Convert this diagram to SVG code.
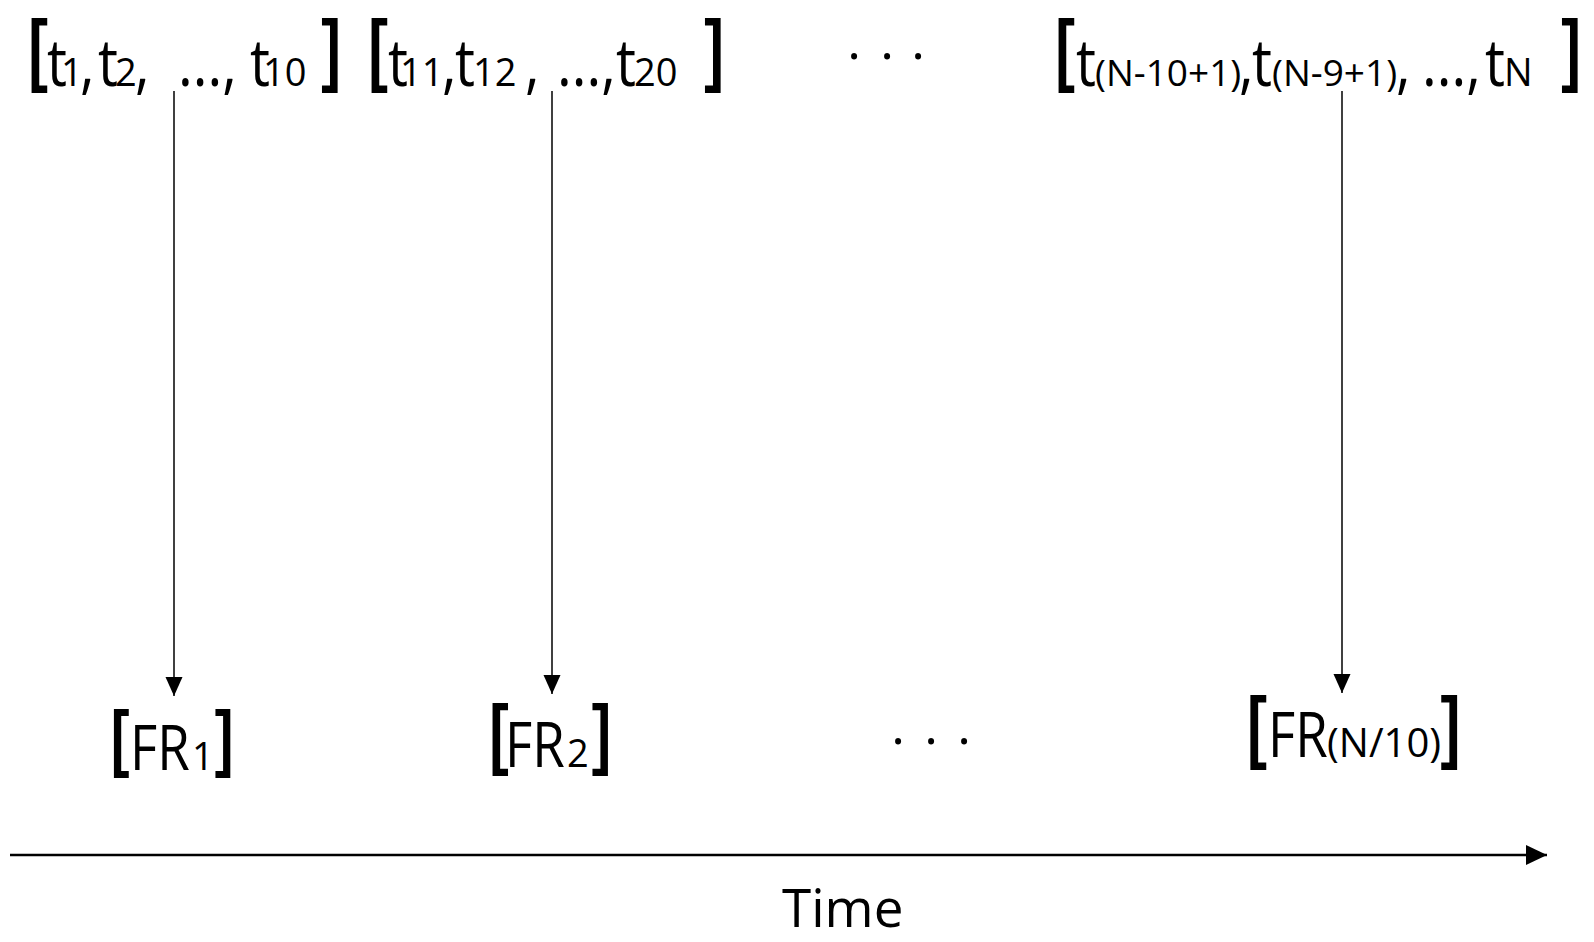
<svg xmlns="http://www.w3.org/2000/svg" width="1594" height="942" viewBox="0 0 1594 942">
<style>
.t{font-family:"Open Sans","Liberation Sans",sans-serif;fill:#000}
.m{font-size:66px}
.s{font-size:38px}
.fm{font-size:62px}
.fs{font-size:38px}
.br{font-family:"Liberation Sans",Arial,sans-serif;font-weight:700;fill:#000;text-anchor:middle}
.dot{font-family:"Open Sans",sans-serif;font-size:52px;text-anchor:middle;fill:#000}
.ln{stroke:#000;stroke-width:1.5;fill:none}
.ax{stroke:#000;stroke-width:2.5;fill:none}
</style>
<defs>
<marker id="ah" markerUnits="userSpaceOnUse" markerWidth="20" markerHeight="18" refX="19" refY="8.5" orient="auto"><path d="M0,0 L19,8.5 L0,17 z" fill="#000"/></marker>
<marker id="axh" markerUnits="userSpaceOnUse" markerWidth="22" markerHeight="21" refX="21" refY="10" orient="auto"><path d="M0,0 L21,10 L0,20 z" fill="#000"/></marker>
</defs>
<rect width="1594" height="942" fill="#fff"/>
<g id="group1">
<text class="br" font-size="80" transform="translate(38,76) scale(0.74,1)">[</text>
<g transform="translate(47,0) scale(0.85,1)"><text class="t m" y="86"><tspan x="0">t</tspan><tspan x="38.8">,</tspan><tspan x="60">t</tspan><tspan x="103.5">,</tspan><tspan x="154.1">...,</tspan><tspan x="238.8">t</tspan></text></g>
<text class="t s" y="86"><tspan x="61">1</tspan><tspan x="115">2</tspan><tspan x="263">10</tspan></text>
<text class="br" font-size="80" transform="translate(331,76) scale(0.74,1)">]</text>
</g>
<g id="group2">
<text class="br" font-size="80" transform="translate(378,76) scale(0.74,1)">[</text>
<g transform="translate(388,0) scale(0.85,1)"><text class="t m" y="86"><tspan x="0">t</tspan><tspan x="63.5">,</tspan><tspan x="78.8">t</tspan><tspan x="161.2">,</tspan><tspan x="198.8">...,</tspan><tspan x="268.2">t</tspan></text></g>
<text class="t s" y="86"><tspan x="400">11</tspan><tspan x="473">12</tspan><tspan x="634">20</tspan></text>
<text class="br" font-size="80" transform="translate(714,76) scale(0.74,1)">]</text>
</g>
<g id="dots-top">
<text class="dot" y="59"><tspan x="854">.</tspan><tspan x="887">.</tspan><tspan x="918">.</tspan></text>
</g>
<g id="group3">
<text class="br" font-size="80" transform="translate(1065,76) scale(0.74,1)">[</text>
<g transform="translate(1076,0) scale(0.85,1)"><text class="t m" y="86"><tspan x="0">t</tspan><tspan x="191.8">,</tspan><tspan x="207.1">t</tspan><tspan x="376.5">,</tspan><tspan x="407.1">...,</tspan><tspan x="481.2">t</tspan></text></g>
<text class="t" font-size="37" y="86"><tspan x="1095">(N-10+1)</tspan><tspan x="1272">(N-9+1)</tspan></text>
<text class="t s" x="1504" y="86">N</text>
<text class="br" font-size="80" transform="translate(1571,76) scale(0.74,1)">]</text>
</g>
<g id="connectors">
<line class="ln" x1="174" y1="91" x2="174" y2="696" marker-end="url(#ah)"/>
<line class="ln" x1="552" y1="91" x2="552" y2="694" marker-end="url(#ah)"/>
<line class="ln" x1="1342" y1="91" x2="1342" y2="693" marker-end="url(#ah)"/>
<line class="ax" x1="10" y1="855" x2="1547" y2="855" marker-end="url(#axh)"/>
</g>
<g id="fr1">
<text class="br" font-size="74" transform="translate(120,763) scale(0.76,1)">[</text>
<g transform="translate(130,0) scale(0.85,1)"><text class="t fm" x="0" y="770">FR</text></g>
<text class="t fs" x="192" y="770">1</text>
<text class="br" font-size="74" transform="translate(224,763) scale(0.76,1)">]</text>
</g>
<g id="fr2">
<text class="br" font-size="77" transform="translate(499,760) scale(0.76,1)">[</text>
<g transform="translate(505,0) scale(0.85,1)"><text class="t fm" x="0" y="767">FR</text></g>
<text class="t fs" x="567" y="767">2</text>
<text class="br" font-size="77" transform="translate(601.5,760) scale(0.76,1)">]</text>
</g>
<g id="dots-bottom">
<text class="dot" y="744"><tspan x="898">.</tspan><tspan x="931">.</tspan><tspan x="964">.</tspan></text>
</g>
<g id="frn">
<text class="br" font-size="79" transform="translate(1257,753) scale(0.76,1)">[</text>
<g transform="translate(1268,0) scale(0.85,1)"><text class="t fm" x="0" y="757">FR</text></g>
<text class="t" font-size="40" x="1327" y="757">(N/10)</text>
<text class="br" font-size="79" transform="translate(1450.5,753) scale(0.76,1)">]</text>
</g>
<g id="time-label">
<text class="t" font-size="53" x="782" y="927">Time</text>
</g>
</svg>
